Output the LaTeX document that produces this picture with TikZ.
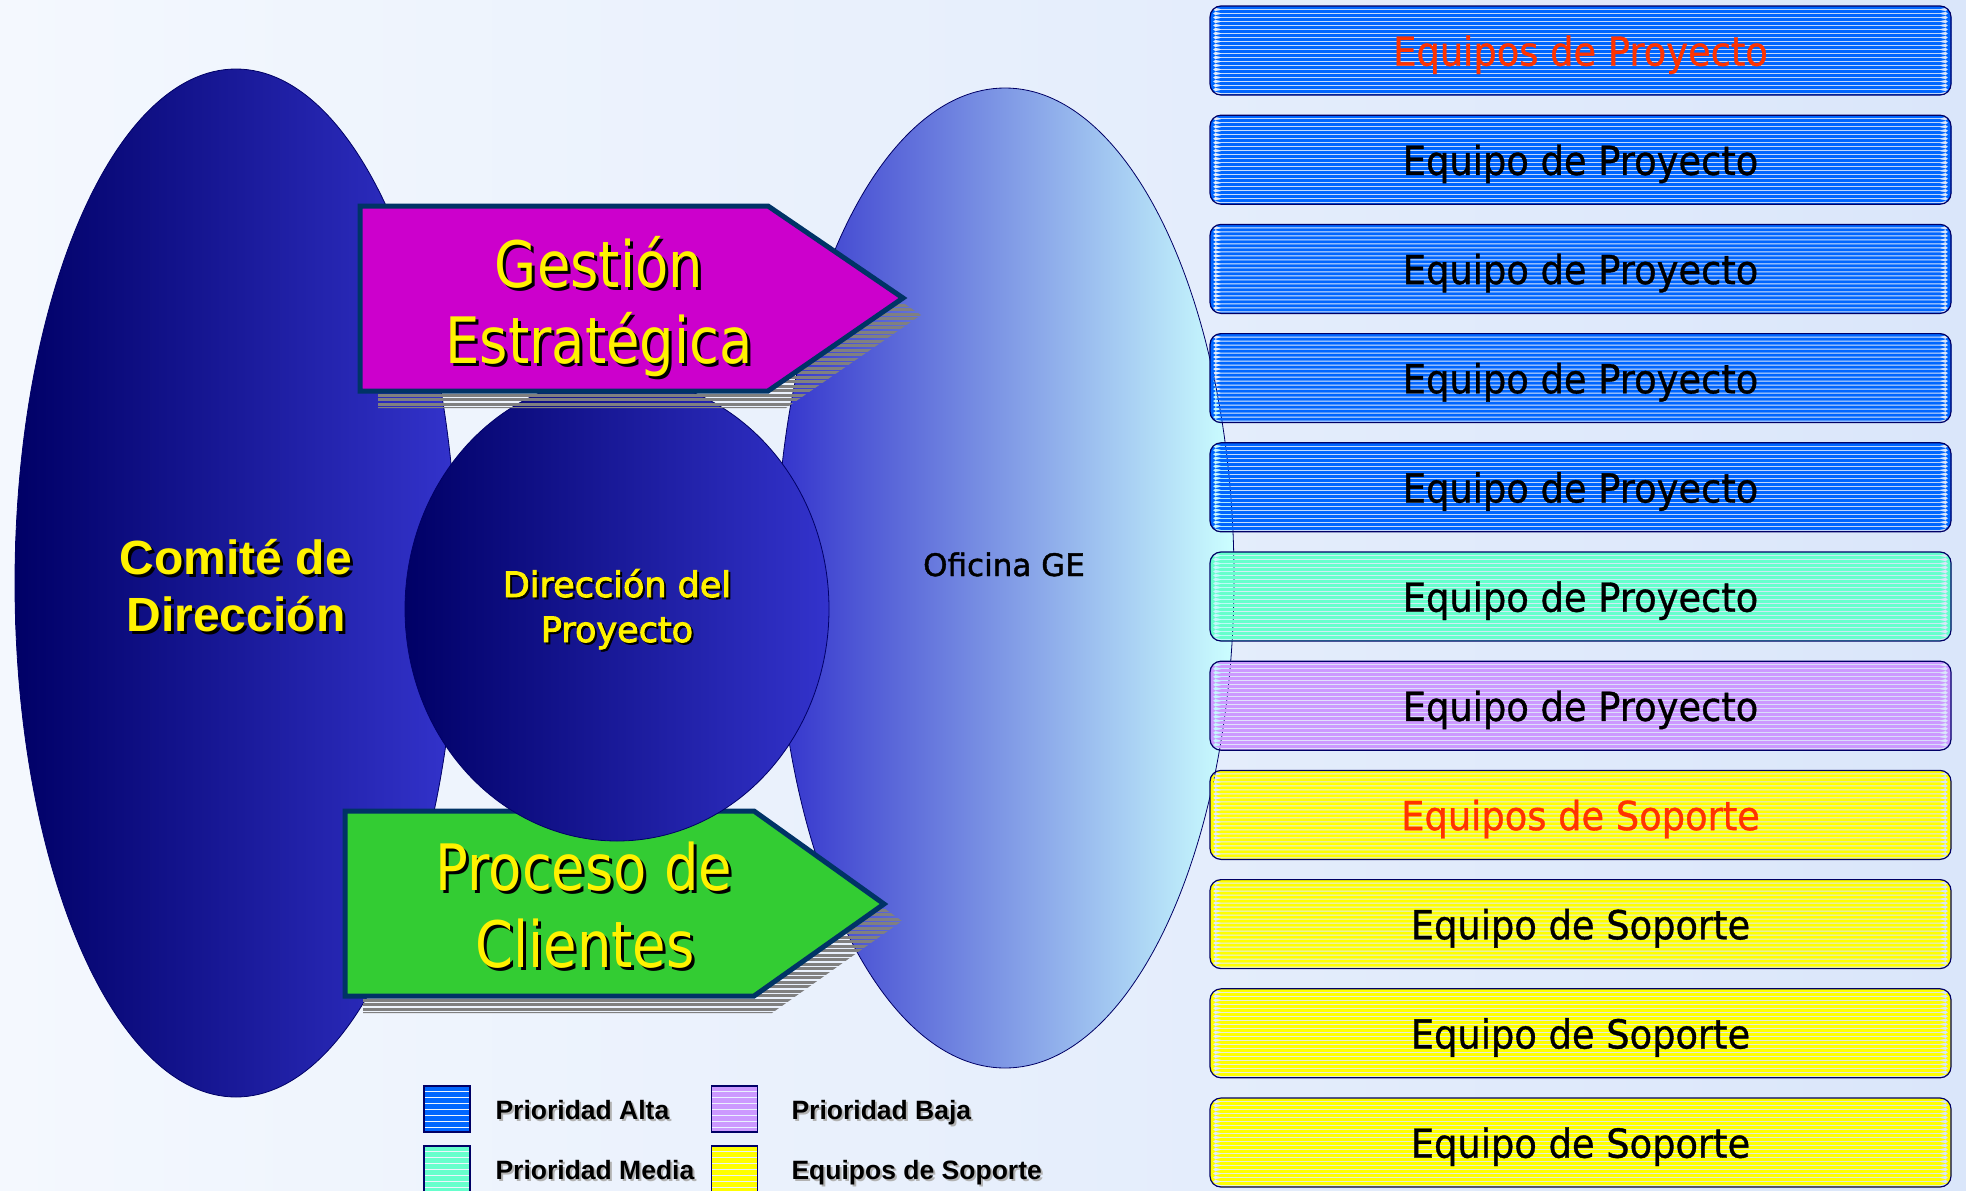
\documentclass[tikz,border=0pt]{standalone}
\usepackage{fontspec}
\setmainfont{DejaVu Sans}
\newfontfamily\dvs{DejaVu Sans}
\newfontfamily\dvsm[FakeBold=1.4]{DejaVu Sans}
\newfontfamily\dvsd[FakeBold=2.6]{DejaVu Sans}
\newfontfamily\bxf[FakeStretch=0.92,FakeBold=0.9]{DejaVu Sans}
\newfontfamily\arl{Liberation Sans}
\newfontfamily\arrf[FakeStretch=0.85]{DejaVu Sans}
\newcommand\bxfont{\bxf\fontsize{40}{46}\selectfont}
\newcommand\arrowfont{\arrf\fontsize{64}{76}\selectfont}
\newcommand\comfont{\arl\bfseries\fontsize{48}{57}\selectfont}
\newcommand\dirfont{\dvsd\fontsize{35}{46}\selectfont}
\newcommand\legfont{\arl\bfseries\fontsize{26.5}{32}\selectfont}
\definecolor{navy}{RGB}{0,0,102}
\definecolor{ellblue}{RGB}{51,51,204}
\definecolor{cyanl}{RGB}{204,255,255}
\definecolor{arrb}{RGB}{0,51,102}
\definecolor{magen}{RGB}{204,0,204}
\definecolor{grn}{RGB}{51,204,51}
\definecolor{bxblue}{RGB}{0,102,255}
\definecolor{bxteal}{RGB}{102,255,204}
\definecolor{bxlav}{RGB}{204,153,255}
\definecolor{bxyel}{RGB}{255,255,0}
\definecolor{redt}{RGB}{255,51,0}
\definecolor{bgblue}{RGB}{218,230,250}
\definecolor{bgl}{RGB}{244,248,254}
\definecolor{shgray}{RGB}{128,128,128}
\begin{document}
\begin{tikzpicture}[x=1pt,y=-1pt,
  stripes/.style={path picture={\foreach \k in {0,...,23}{\fill[#1] ([yshift={-\k*4pt}]path picture bounding box.north west) rectangle ([yshift={-\k*4pt-3pt}]path picture bounding box.north east);}}},
  lstripes/.style={path picture={\foreach \k in {0,...,8}{\fill[#1] ([yshift={-\k*6pt}]path picture bounding box.north west) rectangle ([yshift={-\k*6pt-4.6pt}]path picture bounding box.north east);}}},
  pbox/.style={draw=navy, line width=1.2pt, rounded corners=11pt, minimum width=741pt, minimum height=89pt, inner sep=0pt, text depth=0pt, font=\bxfont, stripes=#1},
  lsq/.style={draw=navy, line width=1.2pt, minimum width=46pt, minimum height=46pt, inner sep=0pt, lstripes=#1},
  arrtext/.style={font=\arrowfont, text=yellow, anchor=base},
  arrshadow/.style={font=\arrowfont, text=black, anchor=base},
  legtext/.style={font=\legfont, text=black, anchor=base west},
  legshadow/.style={font=\legfont, text=black!30, anchor=base west},
]
\useasboundingbox (0,0) rectangle (1966,1191);
% background
\shade[left color=bgl, right color=bgblue] (0,0) rectangle (1966,1191);

% left ellipse (Comite)
\shadedraw[left color=navy, right color=ellblue, draw=navy, line width=0.8pt] (236,583) ellipse [x radius=221pt, y radius=514pt];
% right ellipse (Oficina GE)
\shadedraw[left color=ellblue, right color=cyanl, draw=navy, line width=0.8pt] (1005,578) ellipse [x radius=229pt, y radius=490pt];

% Proceso de Clientes arrow
\begin{scope}
  \clip[shift={(18,17)}] (345,811) -- (754,811) -- (884,904) -- (754,996) -- (345,996) -- cycle;
  \foreach \k in {0,...,50} \fill[shgray] (340,{805+4.5*\k}) rectangle ++(600,3.2);
\end{scope}
\filldraw[fill=grn, draw=arrb, line width=5pt, line join=miter] (345,811) -- (754,811) -- (884,904) -- (754,996) -- (345,996) -- cycle;

% center circle
\shadedraw[left color=navy, right color=ellblue, draw=navy, line width=0.8pt] (617,609) ellipse [x radius=212pt, y radius=232pt];

% Gestion Estrategica arrow
\begin{scope}
  \clip[shift={(18,17)}] (360,206) -- (768,206) -- (903,298) -- (768,391) -- (360,391) -- cycle;
  \foreach \k in {0,...,50} \fill[shgray] (340,{200+4.5*\k}) rectangle ++(620,3.2);
\end{scope}
\filldraw[fill=magen, draw=arrb, line width=5pt, line join=miter] (360,206) -- (768,206) -- (903,298) -- (768,391) -- (360,391) -- cycle;

% arrow texts
\node[arrshadow] (g1s) at (602,290) {Gestión};
\node[arrtext] (g1) at (599,287) {Gestión};
\node[arrshadow] (g2s) at (602,366) {Estratégica};
\node[arrtext] (g2) at (599,363) {Estratégica};
\node[arrshadow] (p1s) at (587,893) {Proceso de};
\node[arrtext] (p1) at (584,890) {Proceso de};
\node[arrshadow] (p2s) at (588,970) {Clientes};
\node[arrtext] (p2) at (585,967) {Clientes};

% Comite de Direccion
\node[font=\comfont, text=black, anchor=base] (c1s) at (239,577) {Comité de};
\node[font=\comfont, text=yellow, anchor=base] (c1) at (236,574) {Comité de};
\node[font=\comfont, text=black, anchor=base] (c2s) at (239,634) {Dirección};
\node[font=\comfont, text=yellow, anchor=base] (c2) at (236,631) {Dirección};

% Direccion del Proyecto
\node[font=\dirfont, text=black, anchor=base] (d1s) at (619,599) {Dirección del};
\node[font=\dirfont, text=yellow, anchor=base] (d1) at (617,597) {Dirección del};
\node[font=\dirfont, text=black, anchor=base] (d2s) at (619,644) {Proyecto};
\node[font=\dirfont, text=yellow, anchor=base] (d2) at (617,642) {Proyecto};

% Oficina GE
\node[font=\dvsm\fontsize{31}{36}\selectfont, text=black, anchor=base] (ofi) at (1004,576) {Oficina GE};

% right boxes
\node[pbox=bxblue, text=redt] (b1) at (1580.5,50.5) {Equipos de Proyecto};
\node[pbox=bxblue] (b2) at (1580.5,159.7) {Equipo de Proyecto};
\node[pbox=bxblue] (b3) at (1580.5,268.9) {Equipo de Proyecto};
\node[pbox=bxblue] (b4) at (1580.5,378.1) {Equipo de Proyecto};
\node[pbox=bxblue] (b5) at (1580.5,487.3) {Equipo de Proyecto};
\node[pbox=bxteal] (b6) at (1580.5,596.5) {Equipo de Proyecto};
\node[pbox=bxlav] (b7) at (1580.5,705.7) {Equipo de Proyecto};
\node[pbox=bxyel, text=redt] (b8) at (1580.5,814.9) {Equipos de Soporte};
\node[pbox=bxyel] (b9) at (1580.5,924.1) {Equipo de Soporte};
\node[pbox=bxyel] (b10) at (1580.5,1033.3) {Equipo de Soporte};
\node[pbox=bxyel] (b11) at (1580.5,1142.5) {Equipo de Soporte};

% legend
\node[lsq=bxblue] (l1) at (447,1109) {};
\node[lsq=bxteal] (l2) at (447,1169) {};
\node[lsq=bxlav] (l3) at (734.5,1109) {};
\node[lsq=bxyel] (l4) at (734.5,1169) {};
\node[legshadow] (t1s) at (494,1121) {Prioridad Alta};
\node[legtext] (t1) at (492,1119) {Prioridad Alta};
\node[legshadow] (t2s) at (494,1181) {Prioridad Media};
\node[legtext] (t2) at (492,1179) {Prioridad Media};
\node[legshadow] (t3s) at (790,1121) {Prioridad Baja};
\node[legtext] (t3) at (788,1119) {Prioridad Baja};
\node[legshadow] (t4s) at (790,1181) {Equipos de Soporte};
\node[legtext] (t4) at (788,1179) {Equipos de Soporte};
\end{tikzpicture}
\end{document}
